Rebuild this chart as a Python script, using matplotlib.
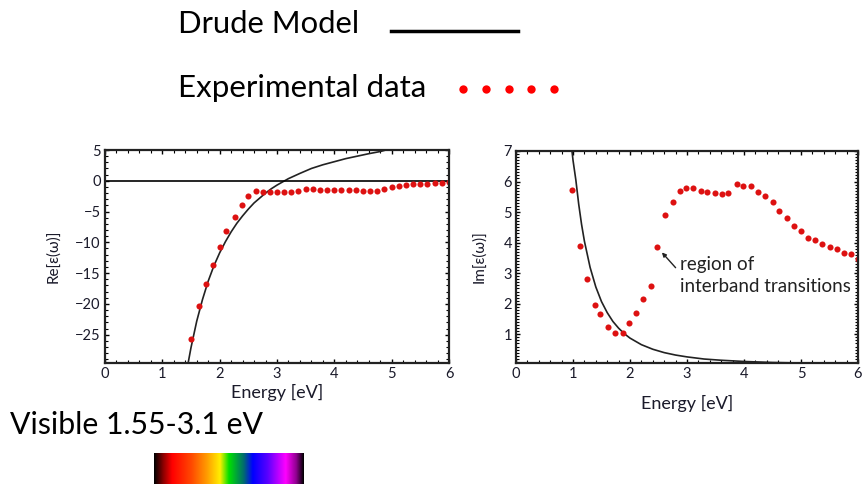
import matplotlib
matplotlib.use("Agg")
import matplotlib.pyplot as plt
import numpy as np
from matplotlib.lines import Line2D
from matplotlib.colors import LinearSegmentedColormap
from matplotlib.ticker import MultipleLocator

# ---------------- data ----------------
re_exp_x = [1.50, 1.64, 1.77, 1.89, 2.01, 2.11, 2.26, 2.39, 2.50, 2.64, 2.75, 2.87,
            3.00, 3.12, 3.25, 3.37, 3.50, 3.62, 3.75, 3.87, 4.00, 4.12, 4.25, 4.37,
            4.50, 4.62, 4.75, 4.87, 5.00, 5.12, 5.25, 5.37, 5.50, 5.62, 5.75, 5.87, 6.00]
re_exp_y = [-25.7, -20.3, -16.8, -13.6, -10.8, -8.2, -5.9, -4.0, -2.5, -1.6, -1.8, -1.8,
            -1.75, -1.75, -1.8, -1.6, -1.4, -1.4, -1.5, -1.5, -1.5, -1.5, -1.5, -1.5,
            -1.6, -1.6, -1.6, -1.3, -1.0, -0.9, -0.7, -0.6, -0.6, -0.5, -0.4, -0.3, -0.2]

re_drude_x = [1.45, 1.50, 1.60, 1.70, 1.80, 1.90, 2.00, 2.10, 2.20, 2.30, 2.40, 2.50,
              2.60, 2.70, 2.80, 2.90, 3.00, 3.20, 3.40, 3.60, 3.80, 4.00, 4.20, 4.40,
              4.60, 4.80, 4.90]
re_drude_y = [-29.6, -27.1, -22.8, -19.3, -16.3, -13.8, -11.7, -9.9, -8.3, -6.9, -5.7, -4.6,
              -3.6, -2.8, -2.0, -1.3, -0.7, 0.35, 1.2, 2.0, 2.6, 3.1, 3.6, 4.0,
              4.4, 4.75, 5.0]

im_exp_x = [0.99, 1.13, 1.24, 1.38, 1.48, 1.61, 1.74, 1.87, 1.99, 2.11, 2.23, 2.36,
            2.48, 2.62, 2.76, 2.87, 2.99, 3.11, 3.24, 3.35, 3.49, 3.62, 3.72, 3.87,
            3.99, 4.12, 4.25, 4.37, 4.50, 4.62, 4.75, 4.87, 5.00, 5.12, 5.24, 5.37,
            5.50, 5.63, 5.75, 5.88, 6.00]
im_exp_y = [5.72, 3.89, 2.81, 1.97, 1.66, 1.25, 1.05, 1.05, 1.38, 1.69, 2.15, 2.59,
            3.86, 4.90, 5.32, 5.70, 5.78, 5.80, 5.68, 5.67, 5.63, 5.58, 5.63, 5.91,
            5.87, 5.87, 5.65, 5.54, 5.32, 5.04, 4.80, 4.53, 4.38, 4.16, 4.09, 3.95,
            3.87, 3.78, 3.67, 3.62, 3.45]

im_drude_x = [0.97, 1.00, 1.05, 1.10, 1.15, 1.20, 1.30, 1.40, 1.50, 1.60, 1.70, 1.80,
              1.90, 2.00, 2.20, 2.40, 2.60, 2.80, 3.00, 3.30, 3.60, 4.00, 4.50, 5.00, 5.40]
im_drude_y = [7.2, 6.7, 6.05, 5.26, 4.60, 4.05, 3.19, 2.55, 2.07, 1.71, 1.42, 1.20,
              1.02, 0.875, 0.66, 0.51, 0.40, 0.32, 0.26, 0.19, 0.15, 0.11, 0.077, 0.06, 0.055]

x_ticks = [0, 1, 2, 3, 4, 5, 6]
re_ticks = [-25, -20, -15, -10, -5, 0, 5]
im_ticks = [1, 2, 3, 4, 5, 6, 7]

# ---------------- figure ----------------
W, H = 867, 484
fig = plt.figure(figsize=(W / 100, H / 100), dpi=100)
plt.rcParams['font.family'] = ['Lato', 'DejaVu Sans']

RED = '#dd1111'
TICKC = '#1a1a2a'


def fx(px):
    return px / W


def fy(py):
    return 1 - py / H


def style_axes(ax, xminor, yminor):
    ax.tick_params(which='both', direction='in', top=True, right=True,
                   colors='black', labelcolor=TICKC, labelsize=10.5, pad=3)
    ax.tick_params(which='major', length=3, width=1.0)
    ax.tick_params(which='minor', length=2, width=0.8)
    ax.xaxis.set_minor_locator(MultipleLocator(xminor))
    ax.yaxis.set_minor_locator(MultipleLocator(yminor))
    for s in ax.spines.values():
        s.set_linewidth(1.6)
        s.set_color('#222222')


# left panel
ax1 = fig.add_axes([fx(105), fy(363), fx(449 - 105), (363 - 150) / H])
ax1.plot(re_drude_x, re_drude_y, color='#222222', lw=1.2)
ax1.axhline(0, color='black', lw=1.2)
ax1.plot(re_exp_x, re_exp_y, 'o', color=RED, ms=4.4, mec='none')
ax1.set_xlim(0, 6)
ax1.set_ylim(-29.6, 5)
ax1.set_xticks(x_ticks)
ax1.set_yticks(re_ticks)
style_axes(ax1, 0.2, 1)
ax1.set_xlabel('Energy [eV]', fontsize=13, color=TICKC, labelpad=2)
ax1.set_ylabel('Re[ε(ω)]', fontsize=11, color=TICKC, labelpad=11)

# right panel
ax2 = fig.add_axes([fx(516), fy(363), fx(858 - 516), (363 - 151) / H])
ax2.plot(im_drude_x, im_drude_y, color='#222222', lw=1.2)
ax2.plot(im_exp_x, im_exp_y, 'o', color=RED, ms=4.4, mec='none')
ax2.set_xlim(0, 6)
ax2.set_ylim(0.06, 7)
ax2.set_xticks(x_ticks)
ax2.set_yticks(im_ticks)
style_axes(ax2, 0.2, 0.1)
ax2.set_xlabel('Energy [eV]', fontsize=13, color=TICKC, labelpad=10)
ax2.set_ylabel('Im[ε(ω)]', fontsize=11, color=TICKC, labelpad=12)
ax2.annotate('', xy=(2.56, 3.68), xytext=(2.80, 3.18),
             arrowprops=dict(arrowstyle='-|>', color='#222222', lw=1.0,
                             mutation_scale=6, shrinkA=0, shrinkB=0))
ax2.text(2.87, 3.30, 'region of', fontsize=13.5, color='#222222', va='center', ha='left')
ax2.text(2.87, 2.57, 'interband transitions', fontsize=13.5, color='#222222',
         va='center', ha='left')

# header "legend"
fig.text(fx(178), fy(24), 'Drude Model', fontsize=22.3, color='black', va='center', ha='left')
fig.add_artist(Line2D([fx(391), fx(518)], [fy(31), fy(31)], color='black', lw=2.5))
fig.text(fx(178), fy(88), 'Experimental data', fontsize=22.5, color='black',
         va='center', ha='left')
dot_px = [463, 486, 509, 531, 554]
fig.add_artist(Line2D([fx(p) for p in dot_px], [fy(89)] * 5, ls='none', marker='o',
                      ms=6, color='#ff0000', mec='none'))

# visible range
fig.text(fx(10), fy(425), 'Visible 1.55-3.1 eV', fontsize=21.8, color='black',
         va='center', ha='left')
spec_cmap = LinearSegmentedColormap.from_list('spec', [
    (0.00, '#000000'), (0.06, '#8a0000'), (0.12, '#ff0000'), (0.25, '#ff4a00'),
    (0.35, '#ff9a00'), (0.44, '#ffee00'), (0.50, '#00e000'), (0.60, '#006a70'),
    (0.66, '#0000ff'), (0.76, '#5a00ff'), (0.88, '#ff00ff'), (0.95, '#900090'),
    (1.00, '#000000')])
axs = fig.add_axes([fx(154), 0, fx(304 - 154), (484 - 453) / H])
axs.imshow(np.linspace(0, 1, 256)[None, :], aspect='auto', cmap=spec_cmap)
axs.set_axis_off()

fig.savefig('out.png', dpi=100)
